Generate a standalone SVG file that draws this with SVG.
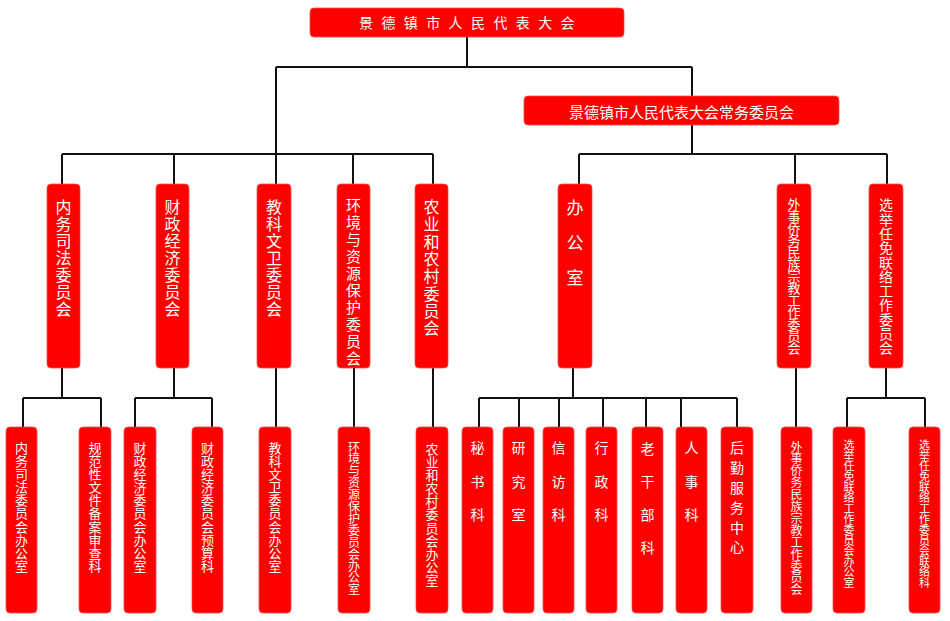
<svg xmlns="http://www.w3.org/2000/svg" width="950" height="621" viewBox="0 0 950 621">
<style>
.b{fill:#ff0000;stroke:#f24c4c;stroke-width:0.8}
.t{fill:#fff;font-family:"Noto Sans CJK SC","Noto Sans CJK JP",sans-serif}
.h{dominant-baseline:central}
.v{writing-mode:vertical-rl;text-orientation:upright}
.c{fill:none;stroke:#111;stroke-width:2}
</style>
<rect width="950" height="621" fill="#fff"/>
<g id="connectors" class="c">
<path d="M467,37V67M276,67H692M276,67V184M62,154H433M62,154V184M174,154V184M353,154V184M433,154V184"/>
<path d="M692,67V96M692,125V154M579,154H887M579,154V184M795,154V184M887,154V184"/>
<path d="M62,368V398M23,398H101M23,398V427M101,398V427"/>
<path d="M174,368V398M135,398H212M135,398V427M212,398V427"/>
<path d="M276,368V427M354,368V427M433,368V427"/>
<path d="M573,368V398M479,398H737M479,398V427M519,398V427M559,398V427M603,398V427M646,398V427M681,398V427M737,398V427"/>
<path d="M796,368V427"/>
<path d="M886,368V398M847,398H925M847,398V427M925,398V427"/>
</g>
<g id="n-top"><rect class="b" x="310" y="8" width="314" height="29" rx="4"/><text class="t h" x="359" y="22" font-size="14" letter-spacing="8.4">景德镇市人民代表大会</text></g>
<g id="n-standing"><rect class="b" x="524" y="96" width="315" height="29" rx="4"/><text class="t h" x="681.5" y="111" font-size="15" text-anchor="middle">景德镇市人民代表大会常务委员会</text></g>
<g id="n-neiwu"><rect class="b" x="47" y="184" width="33" height="184" rx="4"/><text class="t v" x="63.5" y="199" font-size="16" letter-spacing="1">内务司法委员会</text></g>
<g id="n-caizheng"><rect class="b" x="156" y="184" width="33" height="184" rx="4"/><text class="t v" x="172.5" y="199" font-size="16" letter-spacing="1">财政经济委员会</text></g>
<g id="n-jiaoke"><rect class="b" x="257" y="184" width="34" height="184" rx="4"/><text class="t v" x="274" y="199" font-size="16" letter-spacing="1">教科文卫委员会</text></g>
<g id="n-huanjing"><rect class="b" x="337" y="184" width="33" height="184" rx="4"/><text class="t v" x="353.5" y="197.5" font-size="15" letter-spacing="2">环境与资源保护委员会</text></g>
<g id="n-nongye"><rect class="b" x="415" y="184" width="33" height="184" rx="4"/><text class="t v" x="431.5" y="199" font-size="16" letter-spacing="1.3">农业和农村委员会</text></g>
<g id="n-bangongshi"><rect class="b" x="558" y="184" width="34" height="184" rx="4"/><text class="t v" x="575" y="199.5" font-size="17" letter-spacing="18">办公室</text></g>
<g id="n-waishi"><rect class="b" x="777" y="184" width="34" height="184" rx="4"/><text class="t v" x="794" y="197.5" font-size="13" letter-spacing="-1">外事侨务民族宗教工作委员会</text></g>
<g id="n-xuanju"><rect class="b" x="869" y="184" width="34" height="184" rx="4"/><text class="t v" x="886" y="198" font-size="14" letter-spacing="0.3">选举任免联络工作委员会</text></g>
<g id="n-neiwu-bgs"><rect class="b" x="6" y="427" width="31" height="186" rx="4"/><text class="t v" x="21.5" y="441.5" font-size="13" letter-spacing="0.1">内务司法委员会办公室</text></g>
<g id="n-guifan"><rect class="b" x="79" y="427" width="32" height="186" rx="4"/><text class="t v" x="95" y="441.5" font-size="13" letter-spacing="0.1">规范性文件备案审查科</text></g>
<g id="n-caizheng-bgs"><rect class="b" x="124" y="427" width="32" height="186" rx="4"/><text class="t v" x="140" y="441.5" font-size="13" letter-spacing="0.1">财政经济委员会办公室</text></g>
<g id="n-yusuan"><rect class="b" x="192" y="427" width="31" height="186" rx="4"/><text class="t v" x="207.5" y="441.5" font-size="13" letter-spacing="0.1">财政经济委员会预算科</text></g>
<g id="n-jiaoke-bgs"><rect class="b" x="259" y="427" width="32" height="186" rx="4"/><text class="t v" x="275" y="441.5" font-size="13" letter-spacing="0.1">教科文卫委员会办公室</text></g>
<g id="n-huanjing-bgs"><rect class="b" x="338" y="427" width="32" height="186" rx="4"/><text class="t v" x="354" y="441" font-size="12" letter-spacing="-0.1">环境与资源保护委员会办公室</text></g>
<g id="n-nongye-bgs"><rect class="b" x="416" y="427" width="32" height="186" rx="4"/><text class="t v" x="432" y="442.5" font-size="13" letter-spacing="0.1">农业和农村委员会办公室</text></g>
<g id="n-mishu"><rect class="b" x="462" y="427" width="31" height="186" rx="4"/><text class="t v" x="477.5" y="441" font-size="14" letter-spacing="19.5">秘书科</text></g>
<g id="n-yanjiu"><rect class="b" x="503" y="427" width="31" height="186" rx="4"/><text class="t v" x="518.5" y="441" font-size="14" letter-spacing="19.5">研究室</text></g>
<g id="n-xinfang"><rect class="b" x="543" y="427" width="31" height="186" rx="4"/><text class="t v" x="558.5" y="441" font-size="14" letter-spacing="19.5">信访科</text></g>
<g id="n-xingzheng"><rect class="b" x="586" y="427" width="31" height="186" rx="4"/><text class="t v" x="601.5" y="441" font-size="14" letter-spacing="19.5">行政科</text></g>
<g id="n-laogan"><rect class="b" x="632" y="427" width="31" height="186" rx="4"/><text class="t v" x="647.5" y="442" font-size="14" letter-spacing="18.8">老干部科</text></g>
<g id="n-renshi"><rect class="b" x="676" y="427" width="31" height="186" rx="4"/><text class="t v" x="691.5" y="441" font-size="14" letter-spacing="19.5">人事科</text></g>
<g id="n-houqin"><rect class="b" x="721" y="427" width="32" height="186" rx="4"/><text class="t v" x="737" y="441" font-size="14" letter-spacing="5.8">后勤服务中心</text></g>
<g id="n-waishi-w"><rect class="b" x="781" y="427" width="31" height="186" rx="4"/><text class="t v" x="796.5" y="441" font-size="12" letter-spacing="-0.1">外事侨务民族宗教工作委员会</text></g>
<g id="n-xuanju-bgs"><rect class="b" x="833" y="427" width="32" height="186" rx="4"/><text class="t v" x="849" y="439.5" font-size="11" letter-spacing="-0.4">选举任免联络工作委员会办公室</text></g>
<g id="n-xuanju-lianluo"><rect class="b" x="909" y="427" width="31" height="186" rx="4"/><text class="t v" x="924.5" y="439.5" font-size="11" letter-spacing="-0.4">选举任免联络工作委员会联络科</text></g>
</svg>
